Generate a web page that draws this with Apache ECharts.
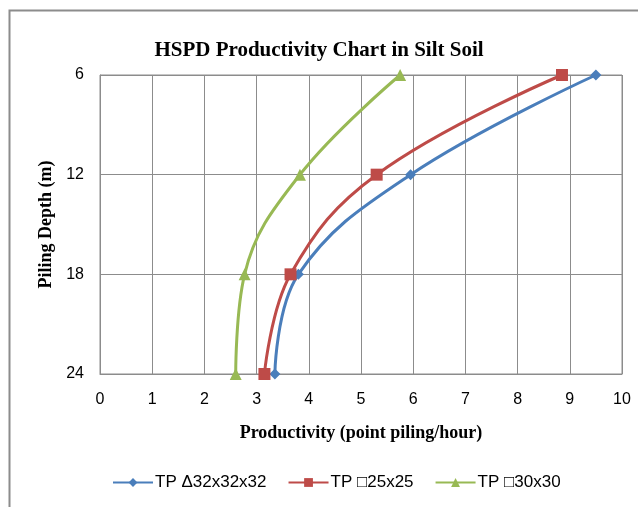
<!DOCTYPE html>
<html>
<head>
<meta charset="utf-8">
<script src="https://cdn.jsdelivr.net/npm/echarts@6/dist/echarts.min.js"></script>
<style>
  html, body { margin: 0; padding: 0; background: #fff; }
  #chart { width: 638px; height: 507px; }
</style>
</head>
<body>
<div id="chart"></div>
<script>
// piling depth (m) at each measured point
const depths = [6, 12, 18, 24]
// productivity (point piling/hour) per pile type
const tpTri32 = [9.5, 5.95, 3.8, 3.35]
const tpSq25 = [8.85, 5.3, 3.65, 3.15]
const tpSq30 = [5.75, 3.83, 2.77, 2.6]
const seriesNames = ['TP Δ32x32x32', 'TP □25x25', 'TP □30x30']
const xTicks = [0, 10]
const yTicks = [6, 24]

const pairs = (xs) => xs.map((x, i) => [x, depths[i]])
const gray = '#8c8c8c'
const serif = '"Liberation Serif", "Times New Roman", serif'
const sans = '"Liberation Sans", Arial, sans-serif'

let chart = echarts.init(document.getElementById('chart'))
var option = {
  animation: false,
  color: ['#4a7ebb', '#be4b48', '#98b954'],
  title: {
    text: 'HSPD Productivity Chart in Silt Soil',
    left: 'center',
    top: 35,
    textStyle: { fontFamily: serif, fontWeight: 'bold', fontSize: 21, color: '#000' }
  },
  graphic: [
    {
      type: 'rect',
      shape: { x: 9.5, y: 10.5, width: 700, height: 600 },
      style: { fill: 'none', stroke: gray, lineWidth: 2 },
      silent: true
    }
  ],
  legend: {
    data: seriesNames,
    bottom: 11,
    left: 107,
    itemWidth: 40,
    itemHeight: 11,
    itemGap: 21,
    textStyle: { fontFamily: sans, fontSize: 17, color: '#000', padding: [0, 0, 0, -3] },
    inactiveColor: '#ccc'
  },
  grid: {
    left: 100,
    right: 16,
    top: 75,
    bottom: 133,
    show: true,
    borderColor: gray,
    borderWidth: 1
  },
  xAxis: {
    type: 'value',
    min: xTicks[0],
    max: xTicks[1],
    interval: 1,
    name: 'Productivity (point piling/hour)',
    nameLocation: 'middle',
    nameGap: 50,
    nameTextStyle: { fontFamily: serif, fontWeight: 'bold', fontSize: 18, color: '#000' },
    axisLine: { lineStyle: { color: gray } },
    axisTick: { show: false },
    axisLabel: { fontFamily: sans, fontSize: 16, color: '#000', margin: 18 },
    splitLine: { lineStyle: { color: gray } }
  },
  yAxis: {
    type: 'value',
    inverse: true,
    min: yTicks[0],
    max: yTicks[1],
    interval: 6,
    name: 'Piling Depth (m)',
    nameLocation: 'middle',
    nameGap: 45,
    nameTextStyle: { fontFamily: serif, fontWeight: 'bold', fontSize: 18, color: '#000' },
    axisLine: { show: true, lineStyle: { color: gray } },
    axisTick: { show: false },
    axisLabel: { fontFamily: sans, fontSize: 16, color: '#000', margin: 16 },
    splitLine: { lineStyle: { color: gray } }
  },
  series: [
    {
      name: seriesNames[0],
      type: 'line',
      smooth: 0.4,
      symbol: 'diamond',
      symbolSize: 11,
      lineStyle: { width: 3 },
      data: pairs(tpTri32)
    },
    {
      name: seriesNames[1],
      type: 'line',
      smooth: 0.4,
      symbol: 'rect',
      symbolSize: 12,
      lineStyle: { width: 3 },
      data: pairs(tpSq25)
    },
    {
      name: seriesNames[2],
      type: 'line',
      smooth: 0.4,
      symbol: 'triangle',
      symbolSize: 12,
      lineStyle: { width: 3 },
      data: pairs(tpSq30)
    }
  ]
}
chart.setOption(option)
</script>
</body>
</html>
